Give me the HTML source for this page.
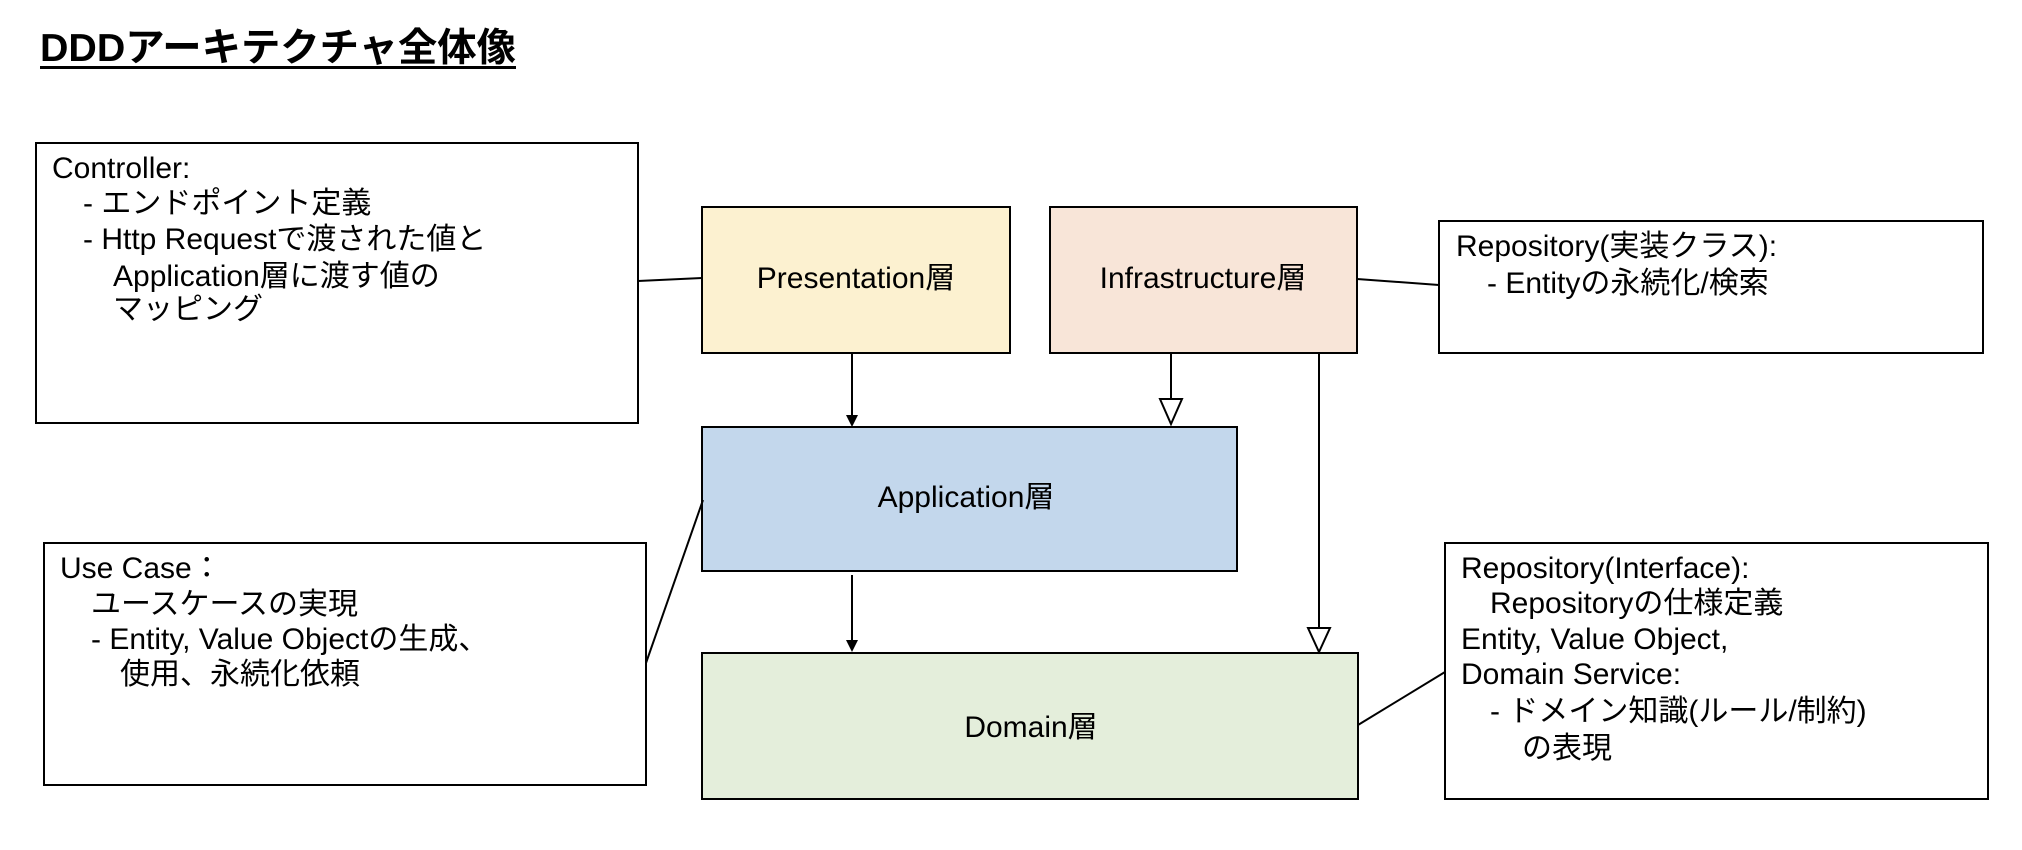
<!DOCTYPE html>
<html><head><meta charset="utf-8"><style>
html,body{margin:0;padding:0;background:#fff;}
svg{display:block;}
text{font-family:"Liberation Sans","Noto Sans CJK JP",sans-serif;fill:#000;}
.b{font-size:30px;}
.l{font-size:30px;}
</style></head><body>
<svg width="2022" height="850" viewBox="0 0 2022 850" xmlns="http://www.w3.org/2000/svg">
<text x="40" y="61" style="font-size:39px;font-weight:bold" textLength="476" lengthAdjust="spacingAndGlyphs">DDDアーキテクチャ全体像</text>
<rect x="40" y="66" width="476" height="3" fill="#000"/>

<!-- Controller -->
<rect x="36" y="143" width="602" height="280" fill="#fff" stroke="#000" stroke-width="2"/>
<text class="b" x="52" y="178">Controller:</text>
<text class="b" x="83" y="213">- エンドポイント定義</text>
<text class="b" x="83" y="249">- Http Requestで渡された値と</text>
<text class="b" x="113" y="286">Application層に渡す値の</text>
<text class="b" x="113" y="319">マッピング</text>

<!-- Use case -->
<rect x="44" y="543" width="602" height="242" fill="#fff" stroke="#000" stroke-width="2"/>
<text class="b" x="60" y="578">Use Case：</text>
<text class="b" x="91" y="614">ユースケースの実現</text>
<text class="b" x="91" y="649">- Entity, Value Objectの生成、</text>
<text class="b" x="120" y="684">使用、永続化依頼</text>

<!-- Repo impl -->
<rect x="1439" y="221" width="544" height="132" fill="#fff" stroke="#000" stroke-width="2"/>
<text class="b" x="1456" y="256">Repository(実装クラス):</text>
<text class="b" x="1487" y="293">- Entityの永続化/検索</text>

<!-- Repo interface -->
<rect x="1445" y="543" width="543" height="256" fill="#fff" stroke="#000" stroke-width="2"/>
<text class="b" x="1461" y="578">Repository(Interface):</text>
<text class="b" x="1490" y="613">Repositoryの仕様定義</text>
<text class="b" x="1461" y="649">Entity, Value Object,</text>
<text class="b" x="1461" y="684">Domain Service:</text>
<text class="b" x="1490" y="721">- ドメイン知識(ルール/制約)</text>
<text class="b" x="1522" y="758">の表現</text>

<!-- Layers -->
<rect x="702" y="207" width="308" height="146" fill="#fcf1d0" stroke="#000" stroke-width="2"/>
<text class="l" x="856" y="288" text-anchor="middle">Presentation層</text>
<rect x="1050" y="207" width="307" height="146" fill="#f8e5d8" stroke="#000" stroke-width="2"/>
<text class="l" x="1203" y="288" text-anchor="middle">Infrastructure層</text>
<rect x="702" y="427" width="535" height="144" fill="#c3d7ec" stroke="#000" stroke-width="2"/>
<text class="l" x="966" y="507" text-anchor="middle">Application層</text>
<rect x="702" y="653" width="656" height="146" fill="#e4eedb" stroke="#000" stroke-width="2"/>
<text class="l" x="1031" y="737" text-anchor="middle">Domain層</text>

<!-- connectors -->
<g stroke="#000" stroke-width="2" fill="none">
<line x1="638" y1="281" x2="702" y2="278"/>
<line x1="1357" y1="279" x2="1439" y2="285"/>
<line x1="646" y1="663" x2="703" y2="500"/>
<line x1="1358" y1="725" x2="1445" y2="672"/>
<line x1="852" y1="353" x2="852" y2="416"/>
<line x1="852" y1="575" x2="852" y2="641"/>
<line x1="1171" y1="353" x2="1171" y2="399"/>
<line x1="1319" y1="353" x2="1319" y2="628"/>
</g>
<polygon points="846,415 858,415 852,427" fill="#000"/>
<polygon points="846,640 858,640 852,652" fill="#000"/>
<polygon points="1160,399 1182,399 1171,424" fill="#fff" stroke="#000" stroke-width="2"/>
<polygon points="1308,628 1330,628 1319,652" fill="#fff" stroke="#000" stroke-width="2"/>
</svg>
</body></html>
